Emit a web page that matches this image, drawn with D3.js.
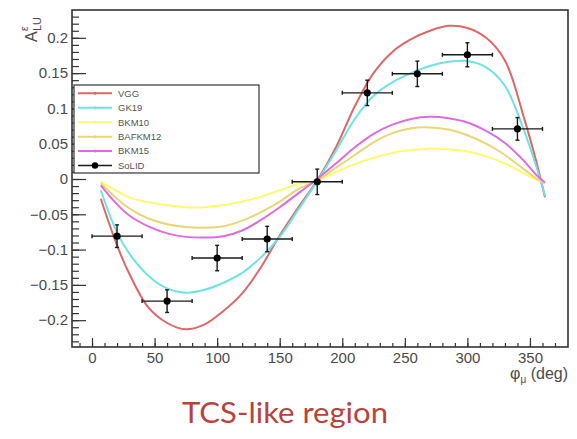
<!DOCTYPE html>
<html><head><meta charset="utf-8">
<script src="https://cdn.jsdelivr.net/npm/d3@7"></script>
<style>body{margin:0;background:#fff}svg{display:block}</style>
</head><body><svg id="c" width="577" height="439"></svg>
<script>
const phi = [7,20,30,45,60,75,90,105,120,135,150,165,180,195,210,225,240,255,270,285,300,315,330,345,355,362];
const vgg    = [-0.028,-0.094,-0.135,-0.182,-0.204,-0.213,-0.206,-0.187,-0.162,-0.125,-0.080,-0.040,-0.002,0.045,0.103,0.150,0.180,0.198,0.210,0.217,0.214,0.200,0.168,0.088,0.025,-0.026];
const gk19   = [-0.016,-0.076,-0.106,-0.137,-0.155,-0.161,-0.157,-0.147,-0.133,-0.111,-0.082,-0.043,-0.003,0.040,0.085,0.118,0.137,0.150,0.160,0.166,0.167,0.158,0.132,0.070,0.018,-0.024];
const bkm10  = [-0.004,-0.017,-0.026,-0.033,-0.037,-0.040,-0.040,-0.037,-0.032,-0.025,-0.016,-0.007,-0.002,0.010,0.021,0.030,0.037,0.041,0.043,0.042,0.039,0.032,0.022,0.008,-0.001,-0.005];
const bafkm12= [-0.006,-0.028,-0.042,-0.056,-0.064,-0.068,-0.069,-0.067,-0.059,-0.047,-0.032,-0.014,-0.002,0.016,0.034,0.052,0.065,0.072,0.073,0.070,0.062,0.050,0.034,0.014,0.001,-0.006];
const bkm15  = [-0.009,-0.036,-0.052,-0.067,-0.077,-0.082,-0.083,-0.081,-0.073,-0.058,-0.040,-0.020,0.000,0.022,0.045,0.064,0.077,0.085,0.088,0.086,0.080,0.068,0.051,0.026,0.006,-0.005];
const solidPhi = [20,60,100,140,180,220,260,300,340];
const solidVal = [-0.081,-0.173,-0.112,-0.085,-0.004,0.122,0.149,0.176,0.071];
const solidErr = [0.016,0.016,0.018,0.018,0.018,0.018,0.018,0.017,0.016];
const solidPhiErr = [20,20,20,20,20,20,20,20,20];
const models = ["VGG","GK19","BKM10","BAFKM12","BKM15"];
const modelColors = ["#e06767","#6fe3e3","#fbfb72","#e9d676","#e06be0"];
const xTicks = [0,50,100,150,200,250,300,350];
const yTicks = [-0.2,-0.15,-0.1,-0.05,0,0.05,0.1,0.15,0.2];
const yTickLabels = ["\u22120.2","\u22120.15","\u22120.1","\u22120.05","0","0.05","0.1","0.15","0.2"];

const series = [vgg,gk19,bkm10,bafkm12,bkm15];
const svg = d3.select("#c");
const L=72,R=568,T=10,B=347;
const x = d3.scaleLinear().domain([-16,380.4]).range([L,R]);
const y = d3.scaleLinear().domain([-0.238,0.2394]).range([B,T]);

// curves
const line = d3.line().x(d=>x(d[0])).y(d=>y(d[1])).curve(d3.curveCatmullRom.alpha(0.5));
series.forEach((s,i)=>{
  svg.append("path").datum(phi.map((p,j)=>[p,s[j]]))
    .attr("d",line).attr("fill","none").attr("stroke",modelColors[i]).attr("stroke-width",2);
});

// data points
const pts = svg.append("g").attr("stroke","#1a1a1a").attr("stroke-width",1.4);
solidPhi.forEach((p,i)=>{
  const cx=x(p), cy=y(solidVal[i]);
  const x1=x(p-solidPhiErr[i]), x2=x(p+solidPhiErr[i]);
  const y1=y(solidVal[i]-solidErr[i]), y2=y(solidVal[i]+solidErr[i]);
  pts.append("line").attr("x1",x1).attr("x2",x2).attr("y1",cy).attr("y2",cy);
  pts.append("line").attr("x1",cx).attr("x2",cx).attr("y1",y1).attr("y2",y2);
  pts.append("line").attr("x1",x1).attr("x2",x1).attr("y1",cy-2).attr("y2",cy+2);
  pts.append("line").attr("x1",x2).attr("x2",x2).attr("y1",cy-2).attr("y2",cy+2);
  pts.append("line").attr("x1",cx-2).attr("x2",cx+2).attr("y1",y1).attr("y2",y1);
  pts.append("line").attr("x1",cx-2).attr("x2",cx+2).attr("y1",y2).attr("y2",y2);
  svg.append("circle").attr("cx",cx).attr("cy",cy).attr("r",3.6).attr("fill","#000");
});

// frame
svg.append("rect").attr("x",L).attr("y",T).attr("width",R-L).attr("height",B-T)
  .attr("fill","none").attr("stroke","#333").attr("stroke-width",1.6);

// axes
const xAx = svg.append("g").attr("transform",`translate(0,${B})`)
  .call(d3.axisBottom(x).tickValues(d3.range(-10,380,10)).tickSize(-4).tickFormat(""));
const xAxM = svg.append("g").attr("transform",`translate(0,${B})`)
  .call(d3.axisBottom(x).tickValues(xTicks).tickSize(-9).tickPadding(5).tickFormat(d3.format("d")));
const yAx = svg.append("g").attr("transform",`translate(${L},0)`)
  .call(d3.axisLeft(y).tickValues(d3.range(-23,24).map(v=>v/100)).tickSize(-7).tickFormat(""));
const yAxM = svg.append("g").attr("transform",`translate(${L},0)`)
  .call(d3.axisLeft(y).tickValues(yTicks).tickSize(-14).tickPadding(4).tickFormat((d,i)=>yTickLabels[i]));
[xAx,xAxM,yAx,yAxM].forEach(g=>{
  g.select(".domain").remove();
  g.selectAll(".tick line").attr("stroke","#333").attr("stroke-width",1.2);
  g.selectAll("text").attr("fill","#4a4a4a").attr("font-family","Liberation Sans, Arial, sans-serif").attr("font-size",15);
});

// axis titles
const xt = svg.append("text").attr("x",R).attr("y",379).attr("text-anchor","end")
  .attr("font-family","Liberation Sans, Arial, sans-serif").attr("font-size",16).attr("fill","#4a4a4a");
xt.append("tspan").text("\u03c6");
xt.append("tspan").attr("font-size",10).attr("dy",4).text("\u03bc");
xt.append("tspan").attr("dy",-4).text(" (deg)");

const yt = svg.append("g").attr("transform","translate(37,42) rotate(-90)")
  .attr("font-family","Liberation Sans, Arial, sans-serif").attr("fill","#4a4a4a");
yt.append("text").attr("x",0).attr("y",0).attr("font-size",16).text("A");
yt.append("text").attr("x",11).attr("y",4).attr("font-size",11).text("LU");
yt.append("text").attr("x",11).attr("y",-9).attr("font-size",10).text("\u03b5");

// legend
const lg = svg.append("g");
lg.append("rect").attr("x",74).attr("y",85).attr("width",185).attr("height",88)
  .attr("fill","#fff").attr("stroke","#333").attr("stroke-width",1.2);
const entries = models.concat(["SoLID"]);
entries.forEach((name,i)=>{
  const yy = 93.3 + i*14.45;
  const col = i<5 ? modelColors[i] : "#1a1a1a";
  lg.append("line").attr("x1",78).attr("x2",112).attr("y1",yy).attr("y2",yy)
    .attr("stroke",col).attr("stroke-width",i<5?2:1.4);
  lg.append("circle").attr("cx",95).attr("cy",yy).attr("r",i<5?1.5:3.2).attr("fill",i<5?col:"#000");
  lg.append("text").attr("x",118).attr("y",yy+3.3).attr("font-size",9.5)
    .attr("font-family","Liberation Sans, Arial, sans-serif").attr("fill","#555").text(name);
});

// caption
svg.append("text").attr("x",285).attr("y",423).attr("text-anchor","middle")
  .attr("font-family","Lato, 'Open Sans', sans-serif").attr("font-size",29)
  .attr("fill","#b9423c").attr("textLength",206).attr("lengthAdjust","spacingAndGlyphs")
  .text("TCS-like region");
</script></body></html>
